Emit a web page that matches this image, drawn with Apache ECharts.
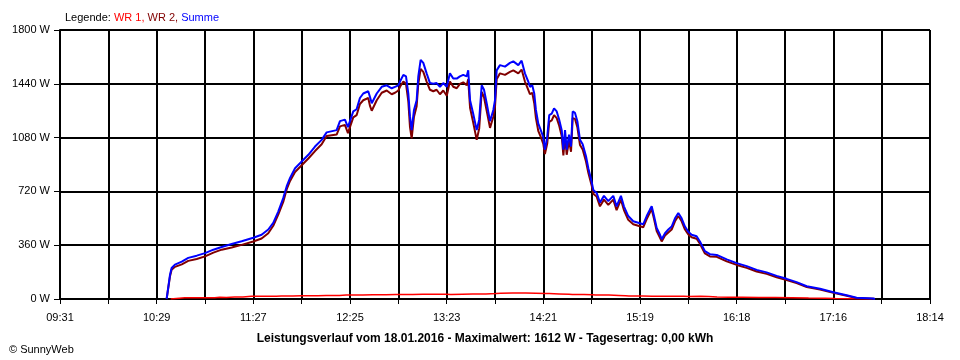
<!DOCTYPE html>
<html><head><meta charset="utf-8">
<script src="https://cdn.jsdelivr.net/npm/echarts@6/dist/echarts.min.js"></script>
<style>html,body{margin:0;padding:0;background:#fff}#c{width:960px;height:360px}</style>
</head><body><div id="c"></div>
<script>
// x values: minutes after 09:31
const tickLabels = ["09:31","10:29","11:27","12:25","13:23","14:21","15:19","16:18","17:16","18:14"];
const spanMinutes = 523;
const yTicks = [0,360,720,1080,1440,1800];

const sumTimes = [64.1,66.1,67.1,69.1,73.2,77.1,82.2,87.2,92.2,97.2,103.2,109.2,116.2,121.2,125.2,128.2,131.2,134.2,136.3,138.3,141.3,145.3,149.3,153.3,157.3,160.3,166.3,168.3,171.3,173.1,174.3,176.3,178.3,180.3,182.3,185.3,186.4,187.4,190.4,193.4,196.4,199.4,201.4,203.4,204.4,206.4,208.0,209.4,210.4,211.4,212.8,214.4,215.4,216.8,218.4,220.4,222.4,224.4,226.4,228.4,230.4,232.5,234.4,236.4,238.5,240.4,242.4,244.5,245.4,246.5,248.4,250.5,252.0,253.5,254.9,256.5,258.5,260.5,261.5,262.5,264.5,267.5,270.5,272.5,275.5,277.5,279.5,281.5,282.5,283.9,285.1,286.1,287.5,289.0,290.5,291.5,292.9,294.1,295.6,297.0,298.6,300.1,301.6,302.6,303.6,304.6,306.0,307.2,308.2,309.6,311.0,312.6,314.2,316.2,317.6,319.6,320.6,322.6,324.6,327.0,329.6,332.6,334.6,337.2,339.0,341.6,344.6,347.6,350.6,352.7,354.7,355.7,357.1,358.7,360.7,361.7,363.7,365.7,367.7,369.7,371.7,373.7,375.7,377.7,379.7,382.7,384.7,387.7,390.7,394.8,400.8,406.8,412.8,418.8,424.8,430.8,436.8,442.8,448.9,456.9,464.9,472.9,478.9,488.9,489.9];
const sumValues = [0,160,207,230,250,275,290,307,330,348,368,386,410,430,465,510,585,675,755,810,875,920,965,1020,1065,1115,1130,1190,1200,1150,1190,1255,1270,1345,1375,1390,1350,1310,1375,1420,1430,1410,1420,1430,1455,1500,1490,1375,1220,1130,1265,1330,1490,1600,1580,1510,1445,1440,1445,1420,1445,1420,1510,1475,1475,1490,1500,1490,1530,1330,1240,1130,1200,1430,1400,1310,1190,1265,1330,1530,1565,1555,1580,1590,1565,1595,1510,1455,1420,1430,1375,1265,1175,1130,1085,1000,1085,1230,1240,1275,1255,1200,1130,1000,1130,1000,1100,1020,1255,1245,1190,1065,1035,955,875,785,730,710,645,690,655,690,620,690,620,555,520,510,500,555,600,620,555,475,430,400,440,465,485,540,575,540,485,450,430,420,385,320,300,295,265,240,220,195,178,155,135,113,85,68,45,25,8,3,0];
const wr2Values = [0,150,195,215,232,255,268,285,310,330,345,362,385,405,440,490,565,650,735,790,850,895,940,990,1035,1090,1100,1155,1165,1110,1150,1215,1230,1305,1330,1345,1290,1260,1330,1380,1395,1370,1380,1395,1420,1455,1440,1320,1150,1075,1220,1290,1440,1540,1520,1455,1400,1390,1400,1370,1395,1360,1455,1420,1410,1440,1450,1430,1470,1280,1180,1065,1140,1385,1350,1260,1145,1220,1285,1470,1510,1500,1520,1530,1510,1535,1455,1400,1370,1380,1310,1210,1125,1085,1040,970,1040,1185,1195,1230,1210,1160,1090,960,1090,965,1060,985,1210,1205,1150,1030,1000,920,845,760,705,685,620,665,630,665,595,665,595,530,500,490,480,535,580,600,535,455,410,385,425,445,465,520,555,520,465,432,413,403,370,305,285,282,252,228,208,184,168,146,127,106,80,63,41,22,6,2,0];

const wr1Times = [66.5,67,75,80,88,93,96,100,105,110,115,118,119,125,130,133,134,140,145,148,149,155,160,162,163,168,172,175,176,182,188,190,191,196,202,205,206,212,218,220,221,226,232,235,236,242,248,250,251,256,262,265,266,272,278,280,281,286,292,294,295,300,306,308,309,315,320,322,323,330,336,340,342,343,350,356,360,361,368,375,378,385,390,395,402,410,420,430,440,450,460,466,488];
const wr1Values = [0,8,8,9,9,12,10,14,14,18,18,12,18,18,20,12,20,22,22,14,22,24,24,15,24,26,26,16,26,28,28,18,28,30,30,20,30,32,32,22,32,32,30,20,32,34,34,24,34,36,38,28,40,40,40,30,38,36,36,26,34,32,30,22,30,28,26,20,26,24,22,20,14,20,18,18,12,18,18,16,18,16,14,12,12,10,10,8,6,5,3,0,0];

function pairs(ts, vs){ return ts.map((t,i)=>[t, vs[i]]); }

const chart = echarts.init(document.getElementById('c'), null, {renderer:'canvas'});
const FONT = 'Liberation Sans';
const step = spanMinutes/18;
const rs = c => ({color:c,fontSize:11,fontFamily:FONT,fontWeight:'normal'});
chart.setOption({
  animation:false,
  backgroundColor:'#ffffff',
  title:[
    {text:'{a|Legende: }{b|WR 1, }{c|WR 2, }{d|Summe}', left:60, top:7,
     textStyle:{fontWeight:'normal',fontSize:11,fontFamily:FONT,rich:{a:rs('#000'),b:rs('#ff0000'),c:rs('#800000'),d:rs('#0000ff')}}},
    {text:'Leistungsverlauf vom 18.01.2016 - Maximalwert: 1612 W - Tagesertrag: 0,00 kWh', left:480, textAlign:'center', top:328,
     textStyle:{color:'#000',fontSize:12,fontWeight:'bold',fontFamily:FONT}},
    {text:'© SunnyWeb', left:4, top:339, textStyle:{color:'#000',fontSize:11,fontWeight:'normal',fontFamily:FONT}}
  ],
  grid:{left:60,right:30,top:30,bottom:61,containLabel:false},
  xAxis:{type:'value',min:0,max:spanMinutes,interval:step,
    axisLine:{show:true,lineStyle:{color:'#000',width:2}},
    axisTick:{show:true,length:5,lineStyle:{color:'#000',width:1}},
    splitLine:{show:true,lineStyle:{color:'#000',width:2}},
    axisLabel:{color:'#000',fontSize:11,fontFamily:FONT,margin:13,showMaxLabel:true,showMinLabel:true,
      formatter:function(v){const i=Math.round(v/step); return i%2===0 ? (tickLabels[i/2]||'') : '';}}
  },
  yAxis:{type:'value',min:yTicks[0],max:yTicks[yTicks.length-1],interval:yTicks[1]-yTicks[0],
    axisLine:{show:true,lineStyle:{color:'#000',width:2}},
    axisTick:{show:true,length:6,lineStyle:{color:'#000',width:1}},
    splitLine:{show:true,lineStyle:{color:'#000',width:2}},
    axisLabel:{color:'#000',fontSize:11,fontFamily:FONT,margin:10,formatter:function(v){return String(v)+' W';}}
  },
  series:[
    {name:'WR 1',type:'line',data:pairs(wr1Times,wr1Values),showSymbol:false,symbol:'none',step:'end',lineStyle:{color:'#ff0000',width:1.5},z:3},
    {name:'WR 2',type:'line',data:pairs(sumTimes,wr2Values),showSymbol:false,symbol:'none',lineStyle:{color:'#800000',width:2},z:4},
    {name:'Summe',type:'line',data:pairs(sumTimes,sumValues),showSymbol:false,symbol:'none',lineStyle:{color:'#0000ff',width:2},z:5}
  ]
});
</script></body></html>
